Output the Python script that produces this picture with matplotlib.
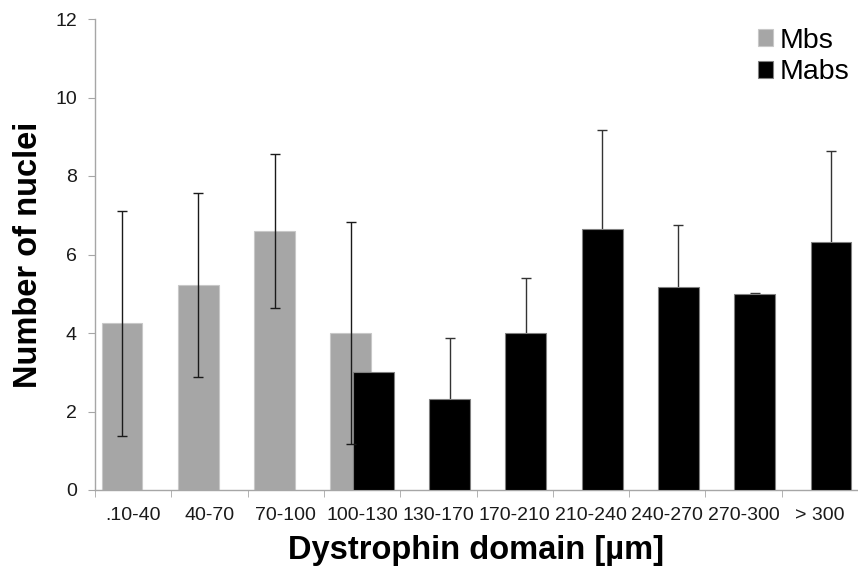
import matplotlib
matplotlib.use("Agg")
import matplotlib.pyplot as plt
import numpy as np

plt.rcParams['font.family'] = ['Liberation Sans', 'DejaVu Sans']

categories = [".10-40", "40-70", "70-100", "100-130", "130-170",
              "170-210", "210-240", "240-270", "270-300", "> 300"]
mbs_values = [4.25, 5.22, 6.60, 4.00, None, None, None, None, None, None]
mbs_err = [2.87, 2.35, 1.96, 2.84, None, None, None, None, None, None]
mabs_values = [None, None, None, 3.00, 2.33, 4.00, 6.66, 5.16, 4.99, 6.32]
mabs_err = [None, None, None, None, 1.53, 1.41, 2.52, 1.60, 0.02, 2.32]

fig = plt.figure(figsize=(8.58, 5.79), dpi=100)
ax = fig.add_axes([95/858, 89/579, 763/858, 471/579])

width = 0.535
offset = 0.147
x = np.arange(len(categories))

def pick(vals, errs, shift):
    xs, ys, xe, ye, ee = [], [], [], [], []
    for i, (v, e) in enumerate(zip(vals, errs)):
        if v is None:
            continue
        xs.append(i + shift); ys.append(v)
        if e is not None:
            xe.append(i + shift); ye.append(v); ee.append(e)
    return xs, ys, xe, ye, ee

gx, gy, gex, gey, gee = pick(mbs_values, mbs_err, -offset)
bx, by, bex, bey, bee = pick(mabs_values, mabs_err, offset)

ax.bar(gx, gy, width=width, color='#a6a6a6', edgecolor='#c8c8c8',
       linewidth=0.8, label='Mbs', zorder=2)
ax.errorbar(bex, bey, yerr=bee, fmt='none', ecolor='#333333',
            elinewidth=1.0, capsize=3.3, capthick=1.0, zorder=2.5)
ax.bar(bx, by, width=width, color='#000000', edgecolor='#808080',
       linewidth=0.8, label='Mabs', zorder=3)
ax.errorbar(gex, gey, yerr=gee, fmt='none', ecolor='#1a1a1a',
            elinewidth=1.0, capsize=3.3, capthick=1.0, zorder=4)

ax.set_xlim(-0.5, len(categories) - 0.5)
ax.set_ylim(0, 12)
ax.set_yticks(np.arange(0, 13, 2))
ax.set_xticks(x)
ax.set_xticklabels(categories)
ax.set_xticks(np.arange(-0.5, len(categories), 1.0), minor=True)

for s in ['top', 'right']:
    ax.spines[s].set_visible(False)
for s in ['left', 'bottom']:
    ax.spines[s].set_color('#a6a6a6')
    ax.spines[s].set_linewidth(1.0)

ax.tick_params(axis='x', which='major', length=0, pad=12,
               labelsize=14, labelcolor='#1a1a1a')
ax.tick_params(axis='x', which='minor', length=5, color='#a6a6a6',
               direction='out')
ax.tick_params(axis='y', length=5, color='#a6a6a6', direction='out',
               pad=8, labelsize=14, labelcolor='#1a1a1a')

ax.set_ylabel('Number of nuclei', fontsize=23.5, fontweight='bold',
              labelpad=8)
ax.set_xlabel('Dystrophin domain [µm]', fontsize=23.5, fontweight='bold',
              labelpad=8)

leg = ax.legend(loc='upper right', frameon=False, fontsize=20.5,
                handlelength=0.53, handleheight=0.53, handletextpad=0.25,
                labelspacing=0.2, borderaxespad=0.1,
                bbox_to_anchor=(1.008, 1.012))

fig.savefig('out.png', dpi=100)
